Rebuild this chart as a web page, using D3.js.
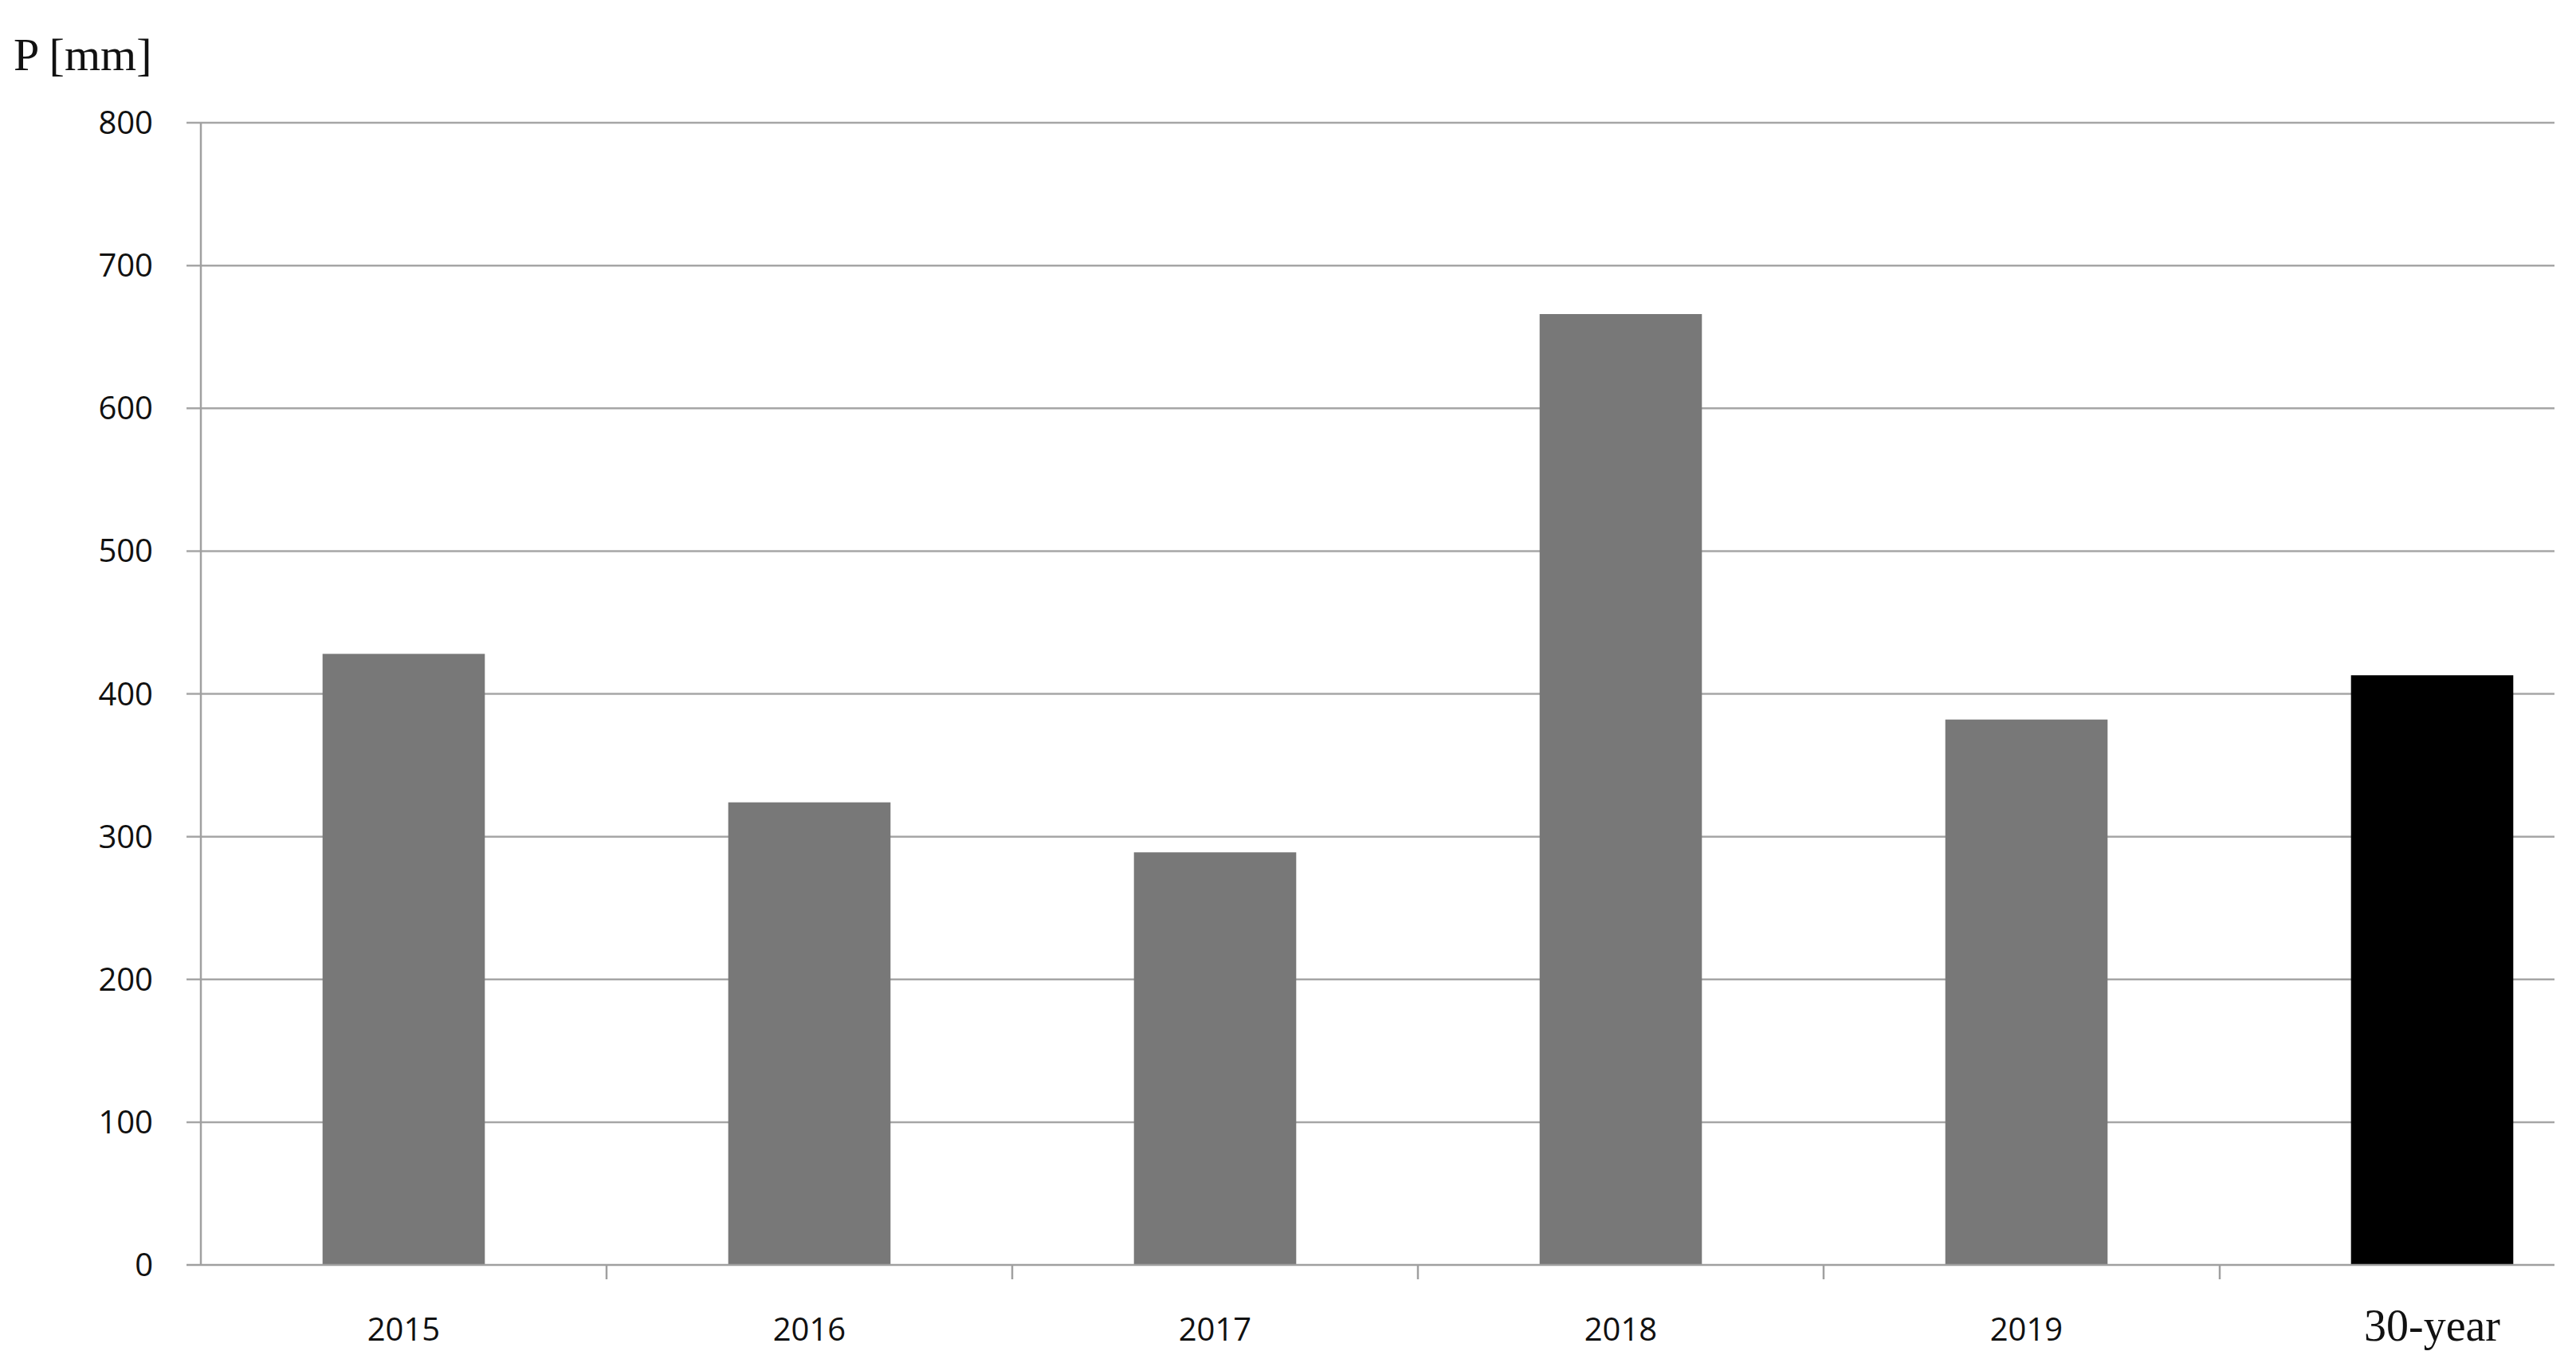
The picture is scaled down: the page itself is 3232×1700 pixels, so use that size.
<!DOCTYPE html>
<html><head><meta charset="utf-8">
<script src="https://cdn.jsdelivr.net/npm/d3@7"></script>
<style>body{margin:0;background:#fff}</style></head>
<body><svg id="c" width="3232" height="1700"></svg>
<script>
const categories = ["2015","2016","2017","2018","2019","30-year"];
const values = [428, 324, 289, 666, 382, 413];
const yTicks = [0,100,200,300,400,500,600,700,800];

(function(){
const svg = d3.select("#c");
const pL = 252, pR = 3205, pT = 154, pB = 1587, step = 509;
const x = d3.scaleBand().domain(categories).range([pL, pL + step*categories.length]).paddingInner(0.6).paddingOuter(0.3);
const y = d3.scaleLinear().domain([0,800]).range([pB, pT]);

svg.append("g").selectAll("line").data(yTicks.slice(1)).join("line")
  .attr("x1", pL-18).attr("x2", pR).attr("y1", d=>y(d)).attr("y2", d=>y(d))
  .attr("stroke", "#a6a6a6").attr("stroke-width", 2.5);
svg.append("g").selectAll("text").data(yTicks).join("text")
  .attr("x", 192).attr("y", d=>y(d)).attr("dy","0.35em").attr("text-anchor","end")
  .attr("font-family","Open Sans, sans-serif").attr("font-size", 40).attr("fill","#111").text(d=>d);
svg.append("g").selectAll("rect").data(categories).join("rect")
  .attr("x", d=>x(d)).attr("width", x.bandwidth())
  .attr("y", (d,i)=>y(values[i])).attr("height", (d,i)=>pB - y(values[i]))
  .attr("fill", (d,i)=> i===5 ? "#000" : "#787878");
svg.append("line").attr("x1", pL).attr("x2", pL).attr("y1", pT).attr("y2", pB)
  .attr("stroke","#a0a0a0").attr("stroke-width",2.5);
svg.append("line").attr("x1", pL-18).attr("x2", pR).attr("y1", pB).attr("y2", pB)
  .attr("stroke","#a0a0a0").attr("stroke-width",2.5);
svg.append("g").selectAll("line").data(d3.range(1, categories.length)).join("line")
  .attr("x1", i=>pL + i*step - (i===5?12:0)).attr("x2", i=>pL + i*step - (i===5?12:0))
  .attr("y1", pB).attr("y2", pB+18).attr("stroke","#a0a0a0").attr("stroke-width",2.5);
svg.append("g").selectAll("text").data(categories).join("text")
  .attr("x", d=>x(d)+x.bandwidth()/2).attr("y", 1682).attr("text-anchor","middle")
  .attr("font-family", d=> d==="30-year" ? "Liberation Serif, serif" : "Open Sans, sans-serif")
  .attr("font-size", d=> d==="30-year" ? 56 : 40).attr("fill","#111").text(d=>d);
svg.append("text").attr("x", 17).attr("y", 88).attr("font-family","Liberation Serif, serif")
  .attr("font-size", 58).attr("fill","#111").text("P [mm]");
})();
</script></body></html>
